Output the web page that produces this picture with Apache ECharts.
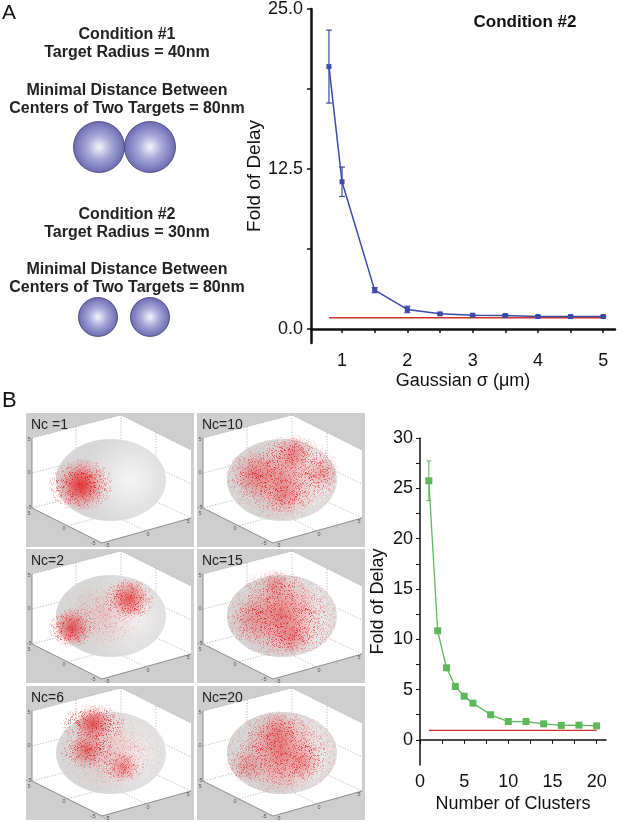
<!DOCTYPE html>
<html>
<head>
<meta charset="utf-8">
<script src="https://cdn.jsdelivr.net/npm/echarts@6/dist/echarts.min.js"></script>
<style>
html, body { margin: 0; padding: 0; background: #fff; }
#chart { width: 617px; height: 822px; }
</style>
</head>
<body>
<div id="chart"></div>
<script>
// A: fold of delay vs Gaussian sigma (condition #2)
const sigmaValues = [0.8, 1.0, 1.5, 2.0, 2.5, 3.0, 3.5, 4.0, 4.5, 5.0];
const sigmaDelay = [20.5, 11.5, 3.03, 1.52, 1.18, 1.07, 1.05, 0.97, 0.97, 0.97];
const sigmaErr = [2.85, 1.15, 0.2, 0.25, 0.08, 0.07, 0.08, 0.05, 0.05, 0.05];
const sigmaBaseline = [0.88, 0.88];
const sigmaLabelTicks = [1, 2, 3, 4, 5];
const sigmaAllTicks = [1, 1.5, 2, 2.5, 3, 3.5, 4, 4.5, 5];
const delayLabelTicksA = [0, 12.5, 25];
const delayAllTicksA = [0, 6.25, 12.5, 18.75, 25];

// B: fold of delay vs number of clusters
const clusterCounts = [1, 2, 3, 4, 5, 6, 8, 10, 12, 14, 16, 18, 20];
const clusterDelay = [25.75, 10.84, 7.16, 5.3, 4.34, 3.65, 2.49, 1.82, 1.82, 1.59, 1.43, 1.46, 1.39];
const clusterErr = [1.97, 0.15, 0.1, 0.1, 0.08, 0.06, 0.05, 0.05, 0.05, 0.04, 0.04, 0.04, 0.04];
const clusterBaseline = [0.95, 0.95];
const clusterLabelTicks = [0, 5, 10, 15, 20];
const clusterAllTicks = [0, 2.5, 5, 7.5, 10, 12.5, 15, 17.5, 20];
const delayLabelTicksB = [0, 5, 10, 15, 20, 25, 30];
const delayAllTicksB = [0, 2.5, 5, 7.5, 10, 12.5, 15, 17.5, 20, 22.5, 25, 27.5, 30];

const blue = '#3b4aa8';
const green = '#5db85a';
const red = '#d3302c';
const FONT = 'Liberation Sans, Arial, sans-serif';

const chart = echarts.init(document.getElementById('chart'));

function errorBars(color, capW, lw) {
    return function (params, api) {
        const x = api.value(0);
        const lo = api.coord([x, api.value(1)]);
        const hi = api.coord([x, api.value(2)]);
        const st = { stroke: color, lineWidth: lw };
        return {
            type: 'group',
            children: [
                { type: 'line', shape: { x1: lo[0], y1: lo[1], x2: hi[0], y2: hi[1] }, style: st },
                { type: 'line', shape: { x1: lo[0] - capW, y1: lo[1], x2: lo[0] + capW, y2: lo[1] }, style: st },
                { type: 'line', shape: { x1: hi[0] - capW, y1: hi[1], x2: hi[0] + capW, y2: hi[1] }, style: st }
            ]
        };
    };
}

function axisStyle(width) {
    return { show: true, lineStyle: { color: '#111', width: width } };
}

// --- panel A left: text + spheres ---
const textA = [
    ['Condition #1', 35], ['Target Radius = 40nm', 53],
    ['Minimal Distance Between', 91], ['Centers of Two Targets = 80nm', 109],
    ['Condition #2', 215], ['Target Radius = 30nm', 233],
    ['Minimal Distance Between', 270], ['Centers of Two Targets = 80nm', 288]
];

function sphere(cx, cy, r) {
    return {
        type: 'circle',
        shape: { cx: cx, cy: cy, r: r },
        style: {
            fill: {
                type: 'radial', x: 0.5, y: 0.5, r: 0.5,
                colorStops: [
                    { offset: 0, color: '#f6f6fc' },
                    { offset: 0.45, color: '#a9a9d9' },
                    { offset: 1, color: '#6a6ab2' }
                ]
            },
            stroke: '#3c3c6e', lineWidth: 0.8
        }
    };
}

// --- panel B left: 3D scatter thumbnails ---
const panelW = 168, panelH = 134;

// speckle texture (hash-based, fixed) so the clouds read as dots
function speckleCanvas() {
    const n = 53;
    const cv = document.createElement('canvas');
    cv.width = n; cv.height = n;
    const ctx = cv.getContext('2d');
    const h = k => { const s = Math.sin(k) * 43758.5453; return s - Math.floor(s); };
    for (let i = 0; i < 900; i++) {
        const px = Math.floor(h(i * 12.9898 + 1.3) * n);
        const py = Math.floor(h(i * 78.233 + 4.1) * n);
        ctx.fillStyle = (i % 3 === 0) ? 'rgba(222,30,36,0.95)' : 'rgba(238,88,88,0.75)';
        ctx.fillRect(px, py, 1, 1);
    }
    return cv;
}
const speckle = { image: speckleCanvas(), repeat: 'repeat' };

function blob(cx, cy, rx, ry, a) {
    const out = [{
        type: 'ellipse',
        shape: { cx: cx, cy: cy, rx: rx, ry: ry },
        style: {
            fill: {
                type: 'radial', x: 0.5, y: 0.5, r: 0.5,
                colorStops: [
                    { offset: 0, color: 'rgba(222,42,46,' + (a * 0.8) + ')' },
                    { offset: 0.6, color: 'rgba(230,70,72,' + (a * 0.35) + ')' },
                    { offset: 1, color: 'rgba(235,100,100,0)' }
                ]
            }
        }
    }];
    [[1.0, 0.3], [0.8, 0.4], [0.55, 0.6]].forEach(s => out.push({
        type: 'ellipse',
        shape: { cx: cx, cy: cy, rx: rx * s[0], ry: ry * s[0] },
        style: { fill: speckle, opacity: Math.min(1, a * s[1]) }
    }));
    return out;
}

function dotted(x1, y1, x2, y2) {
    return { type: 'line', shape: { x1, y1, x2, y2 }, style: { stroke: '#8a8a8a', lineWidth: 0.6, lineDash: [1.2, 1.6] } };
}
function solid(x1, y1, x2, y2) {
    return { type: 'line', shape: { x1, y1, x2, y2 }, style: { stroke: '#666', lineWidth: 0.7 } };
}
function tiny(t, x, y) {
    return { type: 'text', x: x, y: y, style: { text: t, fill: '#555', font: '5.5px ' + FONT, textAlign: 'center', textVerticalAlign: 'middle' } };
}

function boxPanel(x, y, label, blobs) {
    const c = [];
    c.push({ type: 'rect', shape: { x: 0, y: 0, width: panelW, height: panelH }, style: { fill: '#cecece' } });
    c.push({ type: 'polygon', shape: { points: [[6, 25], [95, 2], [165, 37], [165, 105], [76, 130], [6, 95]] }, style: { fill: '#fff' } });
    // back walls / floor grid
    c.push(dotted(6, 25, 95, 2), dotted(95, 2, 165, 37));
    c.push(dotted(95, 2, 95, 72), dotted(95, 72, 6, 95), dotted(95, 72, 165, 105));
    c.push(dotted(6, 60, 95, 37), dotted(95, 37, 165, 71));
    c.push(dotted(50, 14, 50, 84), dotted(130, 20, 130, 89));
    c.push(dotted(50, 84, 120, 118), dotted(130, 89, 41, 113));
    // sphere
    c.push({
        type: 'ellipse',
        shape: { cx: 85, cy: 67, rx: 55, ry: 41 },
        style: {
            fill: {
                type: 'radial', x: 0.68, y: 0.5, r: 0.6,
                colorStops: [
                    { offset: 0, color: '#f4f4f4' },
                    { offset: 1, color: '#d5d5d5' }
                ]
            },
            opacity: 0.95
        }
    });
    blobs.forEach(b => blob(b[0], b[1], b[2], b[3], b[4]).forEach(e => c.push(e)));
    // front axes
    c.push(solid(6, 25, 6, 95), solid(6, 95, 76, 130), solid(76, 130, 165, 105));
    c.push(tiny('5', 3, 26), tiny('0', 3, 59), tiny('-5', 3, 94), tiny('5', 3, 100));
    c.push(tiny('0', 38, 115), tiny('-5', 67, 130), tiny('-5', 81, 132), tiny('0', 122, 121), tiny('5', 162, 108));
    c.push({ type: 'text', x: 5, y: 5, style: { text: label, font: '14px ' + FONT, fill: '#222' } });
    return { type: 'group', x: x, y: y, children: c };
}

const panels = [
    [26, 413, 'Nc =1', [[55, 72, 32, 26, 1.0], [55, 72, 20, 16, 1.0]]],
    [197, 413, 'Nc=10', [[85, 67, 54, 40, 0.6], [97, 40, 32, 18, 0.6], [58, 62, 30, 24, 0.55], [124, 60, 18, 24, 0.45], [88, 82, 28, 16, 0.4]]],
    [26, 549, 'Nc=2', [[46, 79, 23, 19, 1.0], [103, 50, 25, 20, 1.0], [78, 66, 48, 34, 0.2]]],
    [197, 549, 'Nc=15', [[85, 67, 55, 41, 0.75], [78, 36, 30, 16, 0.4], [95, 88, 36, 18, 0.5], [55, 70, 24, 24, 0.35]]],
    [26, 686, 'Nc=6', [[67, 38, 32, 19, 1.0], [61, 64, 28, 18, 0.8], [97, 81, 21, 15, 0.6], [85, 67, 52, 38, 0.25]]],
    [197, 686, 'Nc=20', [[85, 67, 55, 41, 0.7], [80, 47, 32, 22, 0.45], [50, 80, 22, 17, 0.4], [106, 76, 22, 17, 0.4]]]
];

const graphics = [];
graphics.push({ type: 'text', x: 2, y: 3, style: { text: 'A', font: '21px ' + FONT, fill: '#111' } });
graphics.push({ type: 'text', x: 2, y: 390, style: { text: 'B', font: '22px ' + FONT, fill: '#111' } });
textA.forEach(t => graphics.push({
    type: 'text', x: 127, y: t[1],
    style: { text: t[0], font: 'bold 16px ' + FONT, fill: '#222', textAlign: 'center', textVerticalAlign: 'middle' }
}));
graphics.push(sphere(99, 147, 25.5), sphere(150, 147, 25.5));
graphics.push(sphere(98, 317, 19.5), sphere(150, 317, 19.5));
graphics.push({
    type: 'text', x: 525, y: 22,
    style: { text: 'Condition #2', font: 'bold 17px ' + FONT, fill: '#111', textAlign: 'center', textVerticalAlign: 'middle' }
});
panels.forEach(p => graphics.push(boxPanel(p[0], p[1], p[2], p[3])));

const option = {
    animation: false,
    backgroundColor: '#fff',
    textStyle: { fontFamily: FONT },
    graphic: graphics,
    grid: [
        { left: 311, top: 9, width: 304, height: 334 },
        { left: 420, top: 438, width: 186, height: 327 }
    ],
    xAxis: [
        {
            gridIndex: 0, type: 'value', min: 0.525, max: 5.18,
            name: 'Gaussian σ (μm)', nameLocation: 'middle', nameGap: 29,
            nameTextStyle: { fontSize: 18, color: '#111' },
            axisLine: axisStyle(2.5),
            axisTick: { customValues: sigmaAllTicks, length: 4, lineStyle: { color: '#111', width: 1.5 } },
            axisLabel: { customValues: sigmaLabelTicks, fontSize: 18, color: '#111', margin: 9 },
            splitLine: { show: false }
        },
        {
            gridIndex: 1, type: 'value', min: 0, max: 21.06,
            name: 'Number of Clusters', nameLocation: 'middle', nameGap: 30,
            nameTextStyle: { fontSize: 18, color: '#111' },
            axisLine: axisStyle(1.5),
            axisTick: { customValues: clusterAllTicks, length: 4, lineStyle: { color: '#111', width: 1 } },
            axisLabel: { customValues: clusterLabelTicks, fontSize: 18, color: '#111', margin: 8 },
            splitLine: { show: false }
        }
    ],
    yAxis: [
        {
            gridIndex: 0, type: 'value', min: -1.1, max: 25,
            name: 'Fold of Delay', nameLocation: 'middle', nameGap: 45,
            nameTextStyle: { fontSize: 19, color: '#111' },
            axisLine: axisStyle(2.5),
            axisTick: { customValues: delayAllTicksA, length: 4, lineStyle: { color: '#111', width: 1.5 } },
            axisLabel: { customValues: delayLabelTicksA, fontSize: 18, color: '#111', margin: 8, formatter: v => v.toFixed(1) },
            splitLine: { show: false }
        },
        {
            gridIndex: 1, type: 'value', min: -2.5, max: 30,
            name: 'Fold of Delay', nameLocation: 'middle', nameGap: 33,
            nameTextStyle: { fontSize: 18, color: '#111' },
            axisLine: axisStyle(1.5),
            axisTick: { customValues: delayAllTicksB, length: 4, lineStyle: { color: '#111', width: 1 } },
            axisLabel: { customValues: delayLabelTicksB, fontSize: 18, color: '#111', margin: 7 },
            splitLine: { show: false }
        }
    ],
    series: [
        {
            type: 'line', xAxisIndex: 0, yAxisIndex: 0, silent: true,
            data: [[sigmaValues[0], sigmaBaseline[0]], [sigmaValues[sigmaValues.length - 1], sigmaBaseline[1]]],
            symbol: 'none', lineStyle: { color: red, width: 1.5 }
        },
        {
            type: 'custom', xAxisIndex: 0, yAxisIndex: 0, silent: true,
            renderItem: errorBars(blue, 3, 1.2),
            encode: { x: 0, y: [1, 2] },
            data: sigmaValues.map((x, i) => [x, sigmaDelay[i] - sigmaErr[i], sigmaDelay[i] + sigmaErr[i]])
        },
        {
            type: 'line', xAxisIndex: 0, yAxisIndex: 0,
            data: sigmaValues.map((x, i) => [x, sigmaDelay[i]]),
            symbol: 'rect', symbolSize: 5, showAllSymbol: true,
            lineStyle: { color: blue, width: 1.5 }, itemStyle: { color: blue }
        },
        {
            type: 'line', xAxisIndex: 1, yAxisIndex: 1, silent: true,
            data: [[clusterCounts[0], clusterBaseline[0]], [clusterCounts[clusterCounts.length - 1], clusterBaseline[1]]],
            symbol: 'none', lineStyle: { color: red, width: 1.3 }
        },
        {
            type: 'custom', xAxisIndex: 1, yAxisIndex: 1, silent: true,
            renderItem: errorBars(green, 2.5, 1),
            encode: { x: 0, y: [1, 2] },
            data: clusterCounts.map((x, i) => [x, clusterDelay[i] - clusterErr[i], clusterDelay[i] + clusterErr[i]])
        },
        {
            type: 'line', xAxisIndex: 1, yAxisIndex: 1,
            data: clusterCounts.map((x, i) => [x, clusterDelay[i]]),
            symbol: 'rect', symbolSize: 7, showAllSymbol: true,
            lineStyle: { color: green, width: 1.3 }, itemStyle: { color: green }
        }
    ]
};

chart.setOption(option);
window.addEventListener('resize', () => chart.resize());
</script>
</body>
</html>
